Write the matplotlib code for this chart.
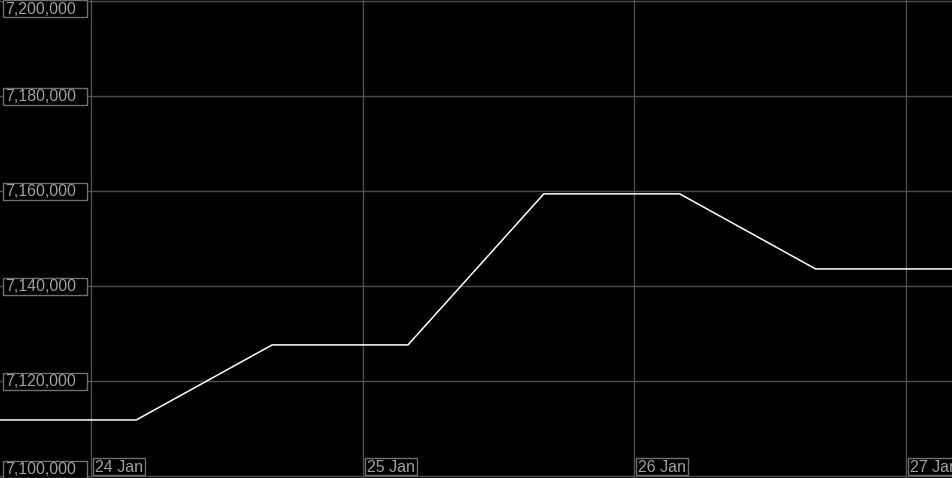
import matplotlib
matplotlib.use("Agg")
import matplotlib.pyplot as plt
import matplotlib.dates as mdates
from matplotlib.patches import Rectangle
from datetime import datetime

# ---- data ----
times = ["2024-01-23 16:00", "2024-01-24 04:00", "2024-01-24 16:00", "2024-01-25 04:00",
         "2024-01-25 16:00", "2024-01-26 04:00", "2024-01-26 16:00", "2024-01-27 04:00"]
values = [7111800, 7111800, 7127600, 7127600, 7159400, 7159400, 7143600, 7143600]
y_ticks = [7100000, 7120000, 7140000, 7160000, 7180000, 7200000]
x_ticks = ["2024-01-24", "2024-01-25", "2024-01-26", "2024-01-27"]
x_tick_labels = ["24 Jan", "25 Jan", "26 Jan", "27 Jan"]

W, H = 953, 478
plt.rcParams['font.family'] = ['Liberation Sans', 'DejaVu Sans']

fig = plt.figure(figsize=(W / 100, H / 100), dpi=100, facecolor='black')
ax = fig.add_axes([0, 0, 1, 1])
ax.set_facecolor('black')

tx = [mdates.date2num(datetime.strptime(t, "%Y-%m-%d %H:%M")) for t in times]
xt = [mdates.date2num(datetime.strptime(t, "%Y-%m-%d")) for t in x_ticks]

# limits (grid lines at pixel positions matching reference)
px_per_day = 271.7
x0 = xt[0] - 91 / px_per_day
ax.set_xlim(x0, x0 + W / px_per_day)
px_per_unit = 95 / 20000
ax.set_ylim(y_ticks[0] - 2 / px_per_unit, y_ticks[-1] + 1 / px_per_unit)

ax.set_xticks(xt)
ax.set_yticks(y_ticks)
ax.grid(True, color='#4f4f4f', linewidth=1)
ax.tick_params(left=False, bottom=False, labelleft=False, labelbottom=False)
for s in ax.spines.values():
    s.set_visible(False)
ax.set_axisbelow(True)

ax.plot(tx, values, color='white', linewidth=1.1, zorder=3)

txt_color = '#a0a0a0'
box_color = '#707070'

def fig_rect(x, ytop, w, h):
    # pixel coords from top-left -> figure fraction
    r = Rectangle((x / W, 1 - (ytop + h) / H), w / W, h / H, transform=fig.transFigure,
                  facecolor='black', edgecolor=box_color, linewidth=1, zorder=5)
    fig.add_artist(r)

# y labels
for v in y_ticks:
    ydisp = ax.transData.transform((x0, v))[1]
    ypix = H - ydisp
    top = ypix - 8.5
    top = max(0, min(top, H - 17))
    fig_rect(3, top, 84, 17)
    fig.text(5 / W, 1 - (top + 9) / H, f"{v:,}", color=txt_color, fontsize=11.5,
             ha='left', va='center', zorder=6)

# x labels
for xv, lab in zip(xt, x_tick_labels):
    xdisp = ax.transData.transform((xv, y_ticks[0]))[0]
    left = xdisp + 2
    fig_rect(left, 458, 52, 17)
    fig.text((left + 2) / W, 1 - (458 + 9) / H, lab, color=txt_color, fontsize=11.5,
             ha='left', va='center', zorder=6)

fig.savefig("out.png", dpi=100, facecolor='black')
